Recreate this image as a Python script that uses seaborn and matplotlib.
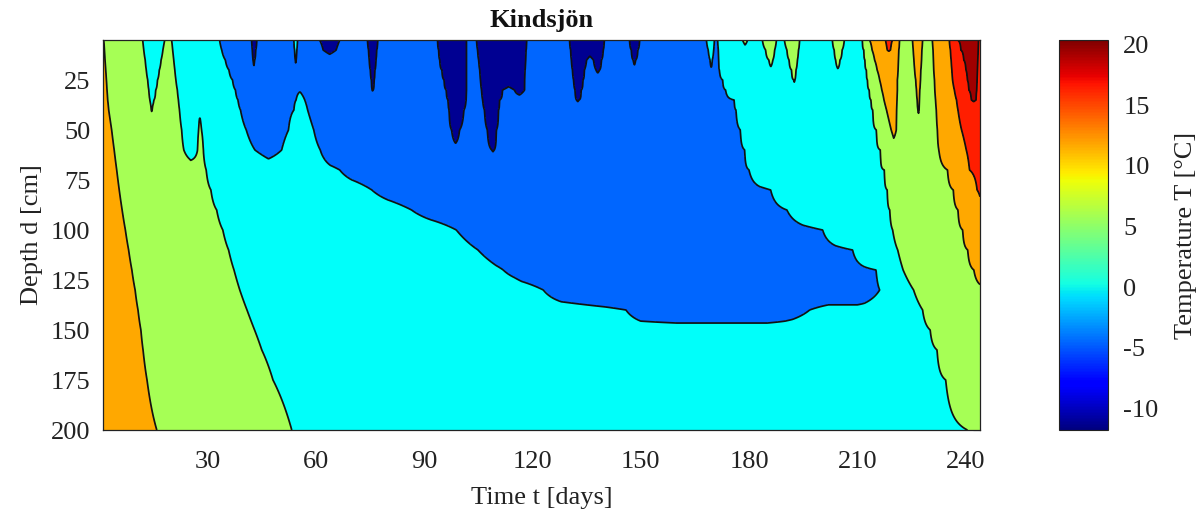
import numpy as np
import matplotlib
matplotlib.use("Agg")
import matplotlib.pyplot as plt
import seaborn as sns
from matplotlib.colors import Normalize
from matplotlib.cm import ScalarMappable

# ---------------- data ----------------
# depth rows [cm]; each row: (time [days], temperature [degC]) knots
depths = [5, 10, 15, 20, 25, 30, 35, 40, 50, 60, 70, 80, 90, 100, 110, 120, 130, 140, 150, 160, 175, 200]

row_d5 = [(1.0, 10.2), (1.19, 10.0), (6.5, 7.5), (12.0, 5.0), (15.0, 3.5), (18.1, 5.0), (19.05, 5.8), (20.0, 5.0),
          (26.5, 2.5), (33.3, 0.0), (38.0, -2.5), (42.2, -5.0), (42.9, -6.5), (43.6, -5.0), (48.5, -2.5),
          (53.9, 0.0), (54.4, 1.0), (54.9, 0.0), (58.0, -3.0), (61.0, -5.0), (63.8, -6.0), (66.6, -5.0),
          (70.5, -3.0), (74.3, -5.0), (75.7, -7.5), (77.1, -5.0), (85.0, -3.0), (93.7, -5.0), (97.7, -9.0),
          (101.7, -5.0), (103.1, -4.3), (104.5, -5.0), (108.9, -10.0), (113.5, -8.5), (117.0, -9.0), (118.4, -5.0),
          (124.0, -3.0), (130.3, -5.0), (132.5, -8.0), (135.5, -6.5), (138.0, -7.0), (139.9, -5.0), (143.5, -4.0),
          (146.9, -5.0), (148.3, -6.5), (149.7, -5.0), (158.0, -2.5), (166.0, -1.2), (168.2, 0.0), (169.3, 1.0),
          (170.4, 0.0), (170.85, -0.4), (171.3, 0.0), (174.5, 2.5), (178.2, 5.0), (178.9, 5.5), (179.6, 5.0),
          (181.7, 4.0), (183.7, 5.0), (185.6, 6.5), (187.6, 5.0), (188.7, 4.3), (189.8, 5.0), (192.6, 7.0),
          (194.0, 5.0), (198.5, 3.0), (203.1, 5.0), (204.5, 6.5), (206.4, 5.0), (209.0, 4.0), (211.4, 5.0),
          (212.4, 7.5), (213.4, 10.0), (215.5, 12.5), (217.8, 15.0), (218.8, 16.0), (219.7, 15.0), (220.7, 12.5),
          (221.7, 10.0), (223.5, 8.5), (225.3, 10.0), (226.7, 11.5), (228.1, 10.0), (229.5, 9.0), (230.8, 10.0),
          (233.2, 12.5), (235.5, 15.0), (236.7, 17.5), (237.8, 20.0), (240.7, 21.0), (243.6, 20.0), (244.0, 19.7)]

row_d10 = [(1.0, 10.3), (1.39, 10.0), (6.5, 7.5), (12.3, 5.0), (15.0, 3.5), (17.6, 5.0), (18.95, 5.7), (20.3, 5.0),
           (27.0, 2.5), (33.9, 0.0), (38.0, -2.5), (42.4, -5.0), (42.85, -6.2), (43.3, -5.0), (48.5, -2.5),
           (54.1, 0.0), (54.4, 0.6), (54.7, 0.0), (58.5, -3.0), (62.0, -5.0), (63.8, -5.6), (65.6, -5.0),
           (70.5, -3.0), (74.6, -5.0), (75.7, -7.0), (76.8, -5.0), (85.0, -3.0), (94.0, -5.0), (97.8, -8.5),
           (101.7, -5.0), (103.25, -4.3), (104.8, -5.0), (108.9, -9.5), (113.5, -8.0), (117.0, -8.5), (118.2, -5.0),
           (124.0, -3.0), (130.6, -5.0), (132.5, -7.5), (135.8, -5.6), (138.0, -6.5), (139.6, -5.0), (143.5, -4.0),
           (147.4, -5.0), (148.3, -6.0), (149.2, -5.0), (158.0, -2.5), (166.0, -1.2), (168.7, 0.0), (169.45, 0.6),
           (170.2, 0.0), (170.85, -0.3), (171.5, 0.0), (174.5, 2.5), (178.9, 4.5), (181.7, 4.0), (184.6, 5.0),
           (185.85, 6.0), (187.1, 5.0), (188.8, 4.3), (190.5, 5.0), (192.1, 6.5), (193.7, 5.0), (198.5, 3.0),
           (203.6, 5.0), (204.7, 6.1), (205.8, 5.0), (209.0, 4.0), (211.8, 5.0), (213.0, 7.5), (214.1, 10.0),
           (216.2, 12.5), (218.3, 15.0), (218.75, 15.3), (219.2, 15.0), (220.5, 12.5), (221.5, 10.0), (223.5, 8.5),
           (225.5, 10.0), (226.7, 11.3), (227.9, 10.0), (229.45, 9.0), (231.0, 10.0), (233.4, 12.5), (235.8, 15.0),
           (237.2, 17.5), (238.7, 20.0), (241.1, 20.8), (243.5, 20.0), (244.0, 19.6)]

row_d15 = [(1.0, 10.4), (1.55, 10.0), (6.5, 7.5), (12.7, 5.0), (14.9, 3.6), (17.1, 5.0), (18.85, 5.7), (20.6, 5.0),
           (27.5, 2.5), (34.9, 0.0), (38.5, -2.5), (42.6, -5.0), (42.8, -5.6), (43.0, -5.0), (48.5, -2.5),
           (54.3, 0.0), (54.4, 0.3), (54.5, 0.0), (58.5, -3.0), (63.8, -4.2), (70.5, -3.0), (74.8, -5.0),
           (75.7, -6.8), (76.6, -5.0), (85.0, -3.0), (94.3, -5.0), (98.0, -8.5), (101.7, -5.0), (103.4, -4.3),
           (105.1, -5.0), (108.9, -9.0), (113.5, -7.5), (117.0, -8.0), (118.1, -5.0), (124.0, -3.0), (130.8, -5.0),
           (132.9, -6.8), (135.0, -5.0), (135.95, -4.6), (136.9, -5.0), (138.0, -6.0), (139.1, -5.0), (143.5, -4.0),
           (147.9, -5.0), (148.25, -5.5), (148.6, -5.0), (158.0, -2.5), (166.0, -1.2), (169.2, 0.0), (169.5, 0.3),
           (169.8, 0.0), (170.7, -0.3), (171.6, 0.0), (175.0, 2.5), (181.0, 4.0), (185.5, 5.0), (186.05, 5.4),
           (186.6, 5.0), (188.8, 4.3), (191.1, 5.0), (192.25, 6.2), (193.4, 5.0), (198.5, 3.0), (204.0, 5.0),
           (204.6, 5.6), (205.2, 5.0), (209.0, 4.0), (212.1, 5.0), (213.4, 7.5), (214.8, 10.0), (218.1, 13.5),
           (221.4, 10.0), (223.5, 8.5), (225.7, 10.0), (226.75, 11.2), (227.8, 10.0), (229.45, 9.0), (231.1, 10.0),
           (233.5, 12.5), (236.0, 15.0), (237.7, 17.5), (239.5, 20.0), (241.5, 20.7), (243.4, 20.0), (244.0, 19.5)]

row_d20 = [(1.0, 10.5), (1.75, 10.0), (6.5, 7.5), (13.0, 5.0), (14.8, 3.8), (16.6, 5.0), (18.75, 5.7), (20.9, 5.0),
           (28.0, 2.5), (35.9, 0.0), (39.0, -2.5), (42.8, -4.6), (48.5, -2.5), (54.4, -0.6), (58.5, -3.0),
           (63.8, -3.5), (70.5, -3.0), (75.1, -5.0), (75.7, -6.5), (76.3, -5.0), (85.0, -3.0), (94.9, -5.0),
           (98.3, -8.0), (101.7, -5.0), (103.55, -4.2), (105.4, -5.0), (108.9, -8.5), (113.5, -7.0), (117.0, -7.5),
           (117.9, -5.0), (124.0, -3.0), (131.1, -5.0), (132.75, -6.5), (134.4, -5.0), (136.0, -4.3), (137.6, -5.0),
           (138.1, -5.3), (138.6, -5.0), (143.5, -4.0), (148.3, -4.5), (158.0, -2.5), (166.0, -1.0), (169.5, -0.1),
           (171.8, 0.0), (175.5, 2.5), (181.0, 4.0), (186.0, 4.8), (188.8, 4.3), (191.8, 5.0), (192.4, 5.8),
           (193.0, 5.0), (198.5, 3.0), (204.6, 4.9), (209.0, 4.0), (212.5, 5.0), (214.0, 7.5), (215.5, 10.0),
           (218.4, 13.0), (221.3, 10.0), (223.6, 8.5), (225.9, 10.0), (226.75, 11.0), (227.6, 10.0), (229.4, 9.0),
           (231.2, 10.0), (233.7, 12.5), (236.2, 15.0), (238.1, 17.5), (240.1, 20.0), (241.7, 20.6), (243.3, 20.0),
           (244.0, 19.4)]

row_d25 = [(1.0, 10.6), (1.94, 10.0), (7.0, 7.5), (13.4, 5.0), (14.75, 4.0), (16.1, 5.0), (18.65, 5.7), (21.2, 5.0),
           (29.0, 2.5), (36.9, 0.0), (40.0, -2.5), (48.5, -2.5), (54.5, -0.8), (58.5, -3.0), (70.5, -3.0),
           (75.4, -5.0), (75.75, -6.0), (76.1, -5.0), (85.0, -3.0), (95.5, -5.0), (98.6, -8.0), (101.7, -5.0),
           (103.65, -4.2), (105.6, -5.0), (108.9, -8.0), (113.5, -6.0), (117.0, -7.0), (117.8, -5.0), (124.0, -3.0),
           (131.4, -5.0), (132.7, -6.2), (134.0, -5.0), (138.1, -4.3), (143.5, -3.5), (158.0, -2.5), (166.0, -1.0),
           (172.7, 0.0), (176.0, 2.5), (181.0, 3.8), (188.0, 4.2), (192.4, 5.0), (192.55, 5.2), (192.7, 5.0),
           (198.5, 3.0), (209.0, 4.0), (212.8, 5.0), (214.5, 7.5), (216.2, 10.0), (218.7, 12.8), (221.1, 10.0),
           (223.7, 8.5), (226.2, 10.0), (226.85, 10.8), (227.5, 10.0), (229.5, 9.0), (231.4, 10.0), (233.9, 12.5),
           (236.4, 15.0), (238.4, 17.5), (240.5, 20.0), (241.9, 20.5), (243.2, 20.0), (244.0, 19.3)]

row_d30 = [(1.0, 10.7), (2.11, 10.0), (7.0, 7.5), (13.7, 5.0), (14.65, 4.2), (15.6, 5.0), (18.6, 5.7), (21.6, 5.0),
           (29.5, 2.5), (37.7, 0.0), (41.0, -2.5), (48.5, -2.5), (55.5, -0.3), (59.0, -3.0), (70.5, -3.0),
           (75.6, -5.0), (75.7, -5.2), (75.8, -5.0), (85.0, -3.0), (96.1, -5.0), (98.9, -7.5), (101.7, -5.0),
           (103.8, -4.2), (105.9, -5.0), (108.8, -7.5), (111.7, -5.0), (113.35, -4.5), (115.0, -5.0), (116.4, -5.8),
           (117.8, -5.0), (124.0, -3.0), (131.8, -5.0), (132.65, -6.0), (133.5, -5.0), (143.5, -3.5), (158.0, -2.5),
           (166.0, -1.0), (173.5, 0.0), (177.0, 2.5), (181.0, 3.8), (192.5, 4.3), (209.0, 4.0), (213.3, 5.0),
           (215.0, 7.5), (216.8, 10.0), (219.0, 12.5), (221.1, 10.0), (223.7, 8.5), (226.4, 10.0), (226.85, 10.6),
           (227.3, 10.0), (229.4, 9.0), (231.5, 10.0), (234.2, 12.5), (236.9, 15.0), (238.9, 17.5), (240.9, 20.0),
           (242.0, 20.4), (243.1, 20.0), (244.0, 19.2)]

row_d35 = [(1.0, 10.8), (2.3, 10.0), (7.5, 7.5), (14.0, 5.0), (14.55, 4.4), (15.1, 5.0), (18.5, 5.7), (21.9, 5.0),
           (30.0, 2.5), (38.4, 0.0), (42.0, -2.5), (50.0, -1.5), (54.5, 0.0), (55.7, 1.5), (56.9, 0.0),
           (60.0, -2.5), (70.5, -3.0), (75.7, -3.8), (85.0, -3.0), (96.6, -5.0), (99.1, -7.5), (101.6, -5.0),
           (103.9, -4.2), (106.2, -5.0), (108.6, -7.0), (110.9, -5.0), (116.4, -4.2), (124.0, -3.0), (132.2, -5.0),
           (132.55, -5.2), (132.9, -5.0), (143.5, -3.5), (158.0, -2.5), (168.0, -1.0), (175.9, 0.0), (179.0, 2.5),
           (190.0, 3.8), (209.0, 4.0), (213.8, 5.0), (215.6, 7.5), (217.4, 10.0), (219.2, 12.5), (221.0, 10.0),
           (223.8, 8.5), (226.6, 10.0), (226.9, 10.4), (227.2, 10.0), (229.5, 9.0), (231.7, 10.0), (234.6, 12.5),
           (237.5, 15.0), (239.6, 17.5), (241.6, 20.0), (242.25, 20.2), (242.9, 20.0), (244.0, 19.0)]

row_d40 = [(1.0, 10.9), (2.58, 10.0), (8.0, 7.5), (14.2, 5.3), (14.5, 4.8), (14.8, 5.3), (18.4, 5.8), (22.2, 5.0),
           (25.0, 3.5), (27.7, 4.8), (30.5, 3.0), (39.1, 0.0), (43.0, -2.0), (50.0, -1.0), (53.9, 0.0), (55.8, 2.0),
           (57.7, 0.0), (61.0, -2.5), (75.7, -3.5), (88.0, -3.0), (96.9, -5.0), (98.9, -7.0), (101.0, -5.0),
           (103.85, -4.0), (106.7, -5.0), (108.65, -6.8), (110.6, -5.0), (116.4, -4.0), (124.0, -3.0), (132.5, -4.0),
           (143.5, -3.5), (158.0, -2.5), (168.0, -1.0), (176.4, 0.0), (180.0, 2.5), (190.0, 3.8), (209.0, 4.0),
           (214.3, 5.0), (216.2, 7.5), (218.1, 10.0), (219.5, 11.8), (220.9, 10.0), (223.8, 8.5), (226.8, 10.0),
           (226.95, 10.2), (227.1, 10.0), (229.5, 9.0), (231.9, 10.0), (234.9, 12.5), (237.9, 15.0), (240.5, 17.5),
           (242.2, 19.0), (244.0, 18.7)]

row_d50 = [(1.0, 11.1), (3.4, 10.0), (9.0, 7.5), (14.5, 7.0), (20.0, 6.0), (22.8, 5.0), (25.1, 3.8), (27.5, 5.0),
           (27.9, 5.5), (28.3, 5.0), (33.0, 2.5), (40.7, 0.0), (44.0, -1.5), (50.0, -0.8), (52.4, 0.0), (55.9, 2.5),
           (59.4, 0.0), (62.0, -2.0), (75.7, -3.0), (88.0, -3.0), (97.6, -5.0), (98.7, -7.0), (99.8, -5.0),
           (103.6, -3.8), (107.5, -5.0), (108.75, -6.5), (110.0, -5.0), (116.4, -3.8), (124.0, -3.0), (143.5, -3.0),
           (160.0, -2.3), (170.0, -1.2), (177.6, 0.0), (181.0, 2.5), (190.0, 3.8), (209.0, 4.0), (215.3, 5.0),
           (217.4, 7.5), (219.4, 10.0), (220.1, 10.7), (220.8, 10.0), (224.0, 8.5), (226.95, 9.2), (229.5, 9.0),
           (232.2, 10.0), (235.5, 12.5), (238.9, 15.0), (241.5, 16.5), (244.0, 16.8)]

row_d60 = [(1.0, 11.3), (4.1, 10.0), (10.0, 7.5), (16.0, 6.5), (20.0, 6.0), (23.4, 5.0), (25.3, 4.2), (27.2, 5.0),
           (28.0, 5.8), (28.8, 5.0), (35.0, 2.5), (43.1, 0.0), (46.8, -0.8), (50.5, 0.0), (55.9, 2.5), (61.2, 0.0),
           (64.0, -1.5), (75.7, -2.5), (88.0, -3.0), (98.7, -4.0), (103.6, -3.6), (108.7, -5.0), (109.05, -5.2),
           (109.4, -5.0), (116.4, -3.6), (124.0, -3.0), (143.5, -2.8), (160.0, -2.2), (170.0, -1.2), (178.8, 0.0),
           (182.0, 2.5), (190.0, 3.8), (210.0, 4.2), (216.4, 5.0), (218.5, 7.5), (220.1, 9.0), (224.0, 8.5),
           (228.5, 9.0), (232.6, 10.0), (236.5, 12.5), (240.2, 15.0), (242.2, 16.0), (244.0, 16.2)]

row_d70 = [(1.0, 11.5), (4.8, 10.0), (11.0, 7.5), (20.0, 6.0), (25.0, 5.8), (29.6, 5.0), (37.0, 2.5), (47.0, 1.0),
           (55.0, 1.5), (62.0, 0.8), (66.6, 0.0), (70.0, -1.0), (80.0, -2.0), (95.0, -3.0), (109.0, -3.0),
           (124.0, -3.0), (143.5, -2.6), (160.0, -2.0), (172.0, -1.0), (180.0, 0.0), (183.0, 2.5), (190.0, 3.8),
           (210.0, 4.3), (217.5, 5.0), (222.0, 7.5), (228.0, 8.8), (235.0, 10.0), (238.0, 12.5), (241.1, 15.0),
           (244.0, 15.7)]

row_d80 = [(1.0, 11.7), (5.5, 10.0), (12.0, 7.5), (20.0, 6.5), (30.9, 5.0), (40.0, 2.5), (60.0, 1.8), (70.0, 1.0),
           (75.5, 0.0), (80.0, -1.0), (95.0, -2.5), (124.0, -2.8), (150.0, -2.5), (170.0, -1.8), (180.0, -1.0),
           (186.0, 0.0), (190.0, 2.0), (200.0, 3.8), (210.0, 4.4), (218.3, 5.0), (224.0, 7.5), (230.0, 8.8),
           (236.6, 10.0), (240.0, 12.5), (243.2, 15.0), (244.0, 15.2)]

row_d90 = [(1.0, 11.9), (6.3, 10.0), (13.0, 7.5), (22.0, 6.3), (32.5, 5.0), (45.0, 2.5), (70.0, 1.8), (80.0, 1.0),
           (86.5, 0.0), (92.0, -1.0), (110.0, -2.3), (140.0, -2.5), (165.0, -2.2), (180.0, -1.5), (190.5, 0.0),
           (195.0, 2.0), (205.0, 3.8), (212.0, 4.5), (219.0, 5.0), (225.0, 7.5), (232.0, 9.0), (237.9, 10.0),
           (241.0, 12.5), (244.0, 14.6)]

row_d100 = [(1.0, 12.1), (7.2, 10.0), (14.0, 7.5), (24.0, 6.2), (34.2, 5.0), (50.0, 2.5), (80.0, 1.8), (92.0, 1.0),
            (98.9, 0.0), (104.0, -1.0), (120.0, -2.2), (150.0, -2.4), (175.0, -2.0), (190.0, -1.2), (200.4, 0.0),
            (204.0, 2.0), (212.0, 4.0), (219.8, 5.0), (226.0, 7.5), (233.0, 9.0), (239.2, 10.0), (242.0, 12.0),
            (244.0, 13.5)]

row_d110 = [(1.0, 12.3), (8.1, 10.0), (15.0, 7.5), (25.0, 6.2), (35.8, 5.0), (55.0, 2.5), (85.0, 1.8), (98.0, 1.0),
            (104.9, 0.0), (110.0, -1.0), (125.0, -2.0), (155.0, -2.3), (185.0, -1.8), (200.0, -1.0), (208.7, 0.0),
            (212.0, 2.0), (217.0, 4.0), (221.2, 5.0), (227.0, 7.5), (234.0, 9.0), (240.6, 10.0), (244.0, 11.8)]

row_d120 = [(1.0, 12.5), (9.0, 10.0), (16.0, 7.5), (26.0, 6.2), (37.3, 5.0), (60.0, 2.5), (90.0, 1.8), (105.0, 1.0),
            (111.9, 0.0), (117.0, -1.0), (130.0, -1.8), (160.0, -2.2), (190.0, -1.8), (205.0, -1.2), (215.2, 0.0),
            (217.5, 2.0), (220.0, 4.0), (222.7, 5.0), (229.0, 7.5), (236.0, 9.2), (242.3, 10.0), (244.0, 10.8)]

row_d130 = [(1.0, 12.6), (9.9, 10.0), (17.0, 7.5), (27.0, 6.2), (38.9, 5.0), (62.0, 2.5), (95.0, 1.8), (115.0, 1.0),
            (123.0, 0.0), (128.0, -1.0), (140.0, -1.6), (165.0, -2.0), (195.0, -2.3), (210.0, -2.3), (216.2, 0.0),
            (219.0, 2.5), (222.5, 4.0), (225.6, 5.0), (231.0, 7.5), (238.0, 9.3), (244.0, 9.7)]

row_d140 = [(1.0, 12.7), (10.7, 10.0), (18.0, 7.5), (28.0, 6.3), (40.9, 5.0), (65.0, 2.5), (100.0, 1.8), (125.0, 0.8),
            (140.0, 0.3), (145.9, 0.0), (150.0, -1.0), (160.0, -1.5), (185.0, -1.5), (192.0, -0.8), (196.8, 0.0),
            (202.0, 0.8), (212.0, 0.8), (218.0, 1.5), (222.0, 3.0), (228.1, 5.0), (234.0, 7.5), (240.0, 9.0),
            (244.0, 9.3)]

row_d150 = [(1.0, 12.8), (11.5, 10.0), (19.0, 7.5), (30.0, 6.3), (43.0, 5.0), (70.0, 2.5), (105.0, 2.0),
            (130.0, 1.5), (150.0, 0.8), (190.0, 0.8), (205.0, 1.5), (215.0, 2.5), (222.0, 3.8), (230.2, 5.0),
            (236.0, 7.5), (241.0, 8.6), (244.0, 8.9)]

row_d160 = [(1.0, 12.9), (12.1, 10.0), (20.0, 7.5), (32.0, 6.3), (45.0, 5.0), (75.0, 2.8), (110.0, 2.3),
            (150.0, 2.0), (190.0, 2.0), (215.0, 3.0), (224.0, 4.0), (232.1, 5.0), (238.0, 7.5), (244.0, 8.5)]

row_d175 = [(1.0, 13.0), (13.2, 10.0), (21.0, 7.5), (34.0, 6.3), (48.1, 5.0), (80.0, 3.0), (120.0, 2.6),
            (170.0, 2.5), (215.0, 3.2), (226.0, 4.2), (234.5, 5.0), (240.0, 7.0), (244.0, 8.0)]

row_d200 = [(1.0, 13.2), (15.9, 10.0), (24.0, 7.5), (38.0, 6.3), (53.3, 5.0), (90.0, 3.2), (130.0, 3.0),
            (180.0, 3.0), (220.0, 3.6), (233.0, 4.4), (240.5, 5.0), (244.0, 6.5)]

rows = [row_d5, row_d10, row_d15, row_d20, row_d25, row_d30, row_d35, row_d40, row_d50, row_d60, row_d70,
        row_d80, row_d90, row_d100, row_d110, row_d120, row_d130, row_d140, row_d150, row_d160, row_d175, row_d200]

levels = [-12, -5, 0, 5, 10, 15, 20, 22]
band_colors = ['#000092', '#0066FF', '#00FFFA', '#A6FF55', '#FFA800', '#FF1E00', '#A00000']
x_ticks = [30, 60, 90, 120, 150, 180, 210, 240]
y_ticks = [25, 50, 75, 100, 125, 150, 175, 200]
cbar_ticks = [-10, -5, 0, 5, 10, 15, 20]
color_limits = (-11.8, 20.4)
time_range = (1, 244)
depth_range = (5, 200)

# ---------------- build field ----------------
t_grid = np.linspace(time_range[0], time_range[1], 2400)
Z = np.array([np.interp(t_grid, [p[0] for p in r], [p[1] for p in r]) for r in rows])
D = np.array(depths, dtype=float)

# ---------------- style ----------------
sns.set_style("white")
plt.rcParams['font.family'] = ['Liberation Serif', 'DejaVu Serif']
plt.rcParams['axes.unicode_minus'] = False
FS = 19

fig = plt.figure(figsize=(12.02, 5.12), dpi=100)
ax = fig.add_axes([103 / 1202, 82 / 512, 877 / 1202, 390 / 512])
cax = fig.add_axes([1059 / 1202, 82 / 512, 49 / 1202, 390 / 512])

ax.contourf(t_grid, D, Z, levels=levels, colors=band_colors)
ax.contour(t_grid, D, Z, levels=levels[1:-1], colors='#111111', linewidths=1.25, linestyles='solid')

ax.set_xlim(*time_range)
ax.set_ylim(depth_range[1], depth_range[0])
ax.set_xticks(x_ticks)
ax.set_yticks(y_ticks)
ax.tick_params(axis='both', direction='in', length=5, width=0.8, top=True, right=True,
               labelsize=FS, colors='#222222')
ax.tick_params(axis='x', pad=15)
ax.tick_params(axis='y', pad=9)
for s in ax.spines.values():
    s.set_color('#222222')
    s.set_linewidth(0.9)

ax.set_xlabel('Time t [days]', fontsize=FS, color='#222222', labelpad=10)
ax.set_ylabel('Depth d [cm]', fontsize=FS, color='#222222', labelpad=6)
ax.set_title('Kindsjön', fontsize=FS, fontweight='bold', color='#111111', pad=9)

sm = ScalarMappable(norm=Normalize(*color_limits), cmap='jet')
cb = fig.colorbar(sm, cax=cax)
cb.set_ticks(cbar_ticks)
cb.ax.tick_params(direction='in', length=4, width=0.8, labelsize=FS, colors='#222222', pad=11)
cb.outline.set_edgecolor('#222222')
cb.outline.set_linewidth(0.8)
cb.set_label('Temperature T [°C]', fontsize=FS, color='#222222', labelpad=12)

fig.savefig('out.png', dpi=100)
